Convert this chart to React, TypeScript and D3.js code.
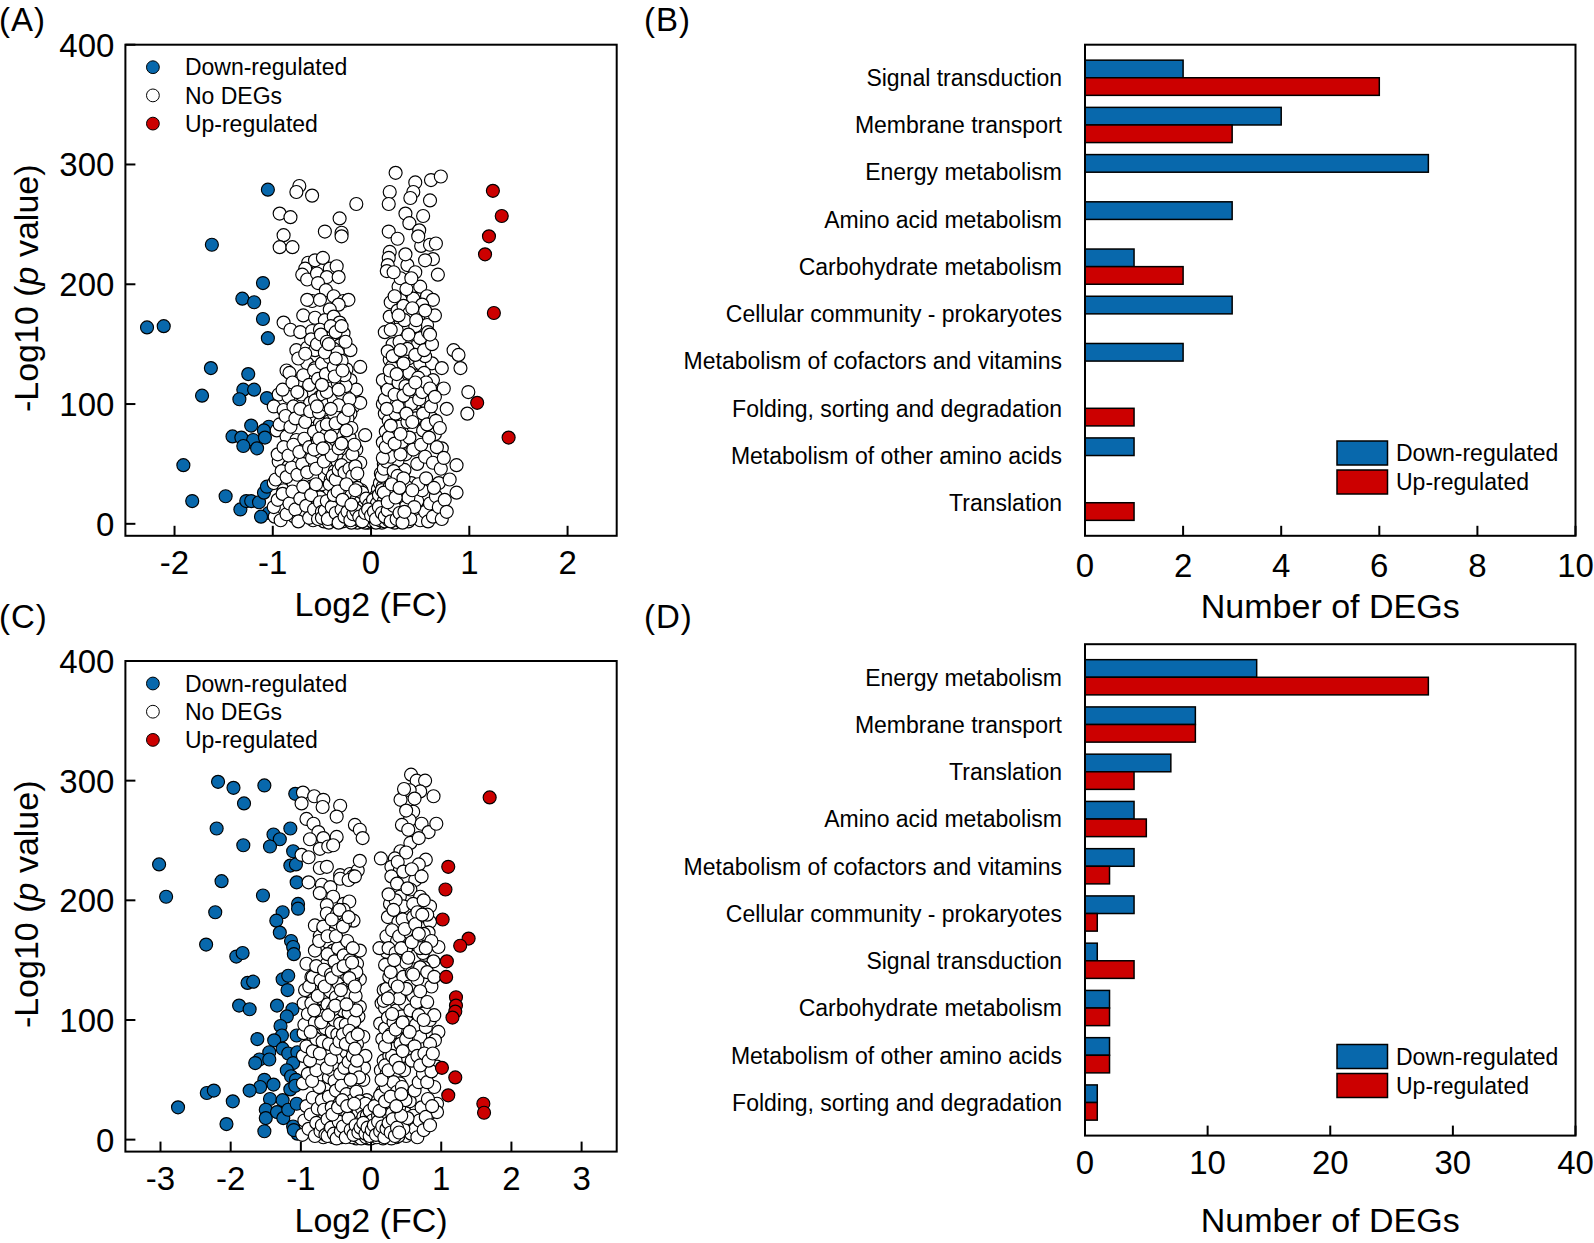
import { useEffect, useRef } from "react";
import * as d3 from "d3";

const FONT = "'Liberation Sans', Arial, Helvetica, sans-serif";
const BLUE = "#0868ac";
const RED = "#cc0000";

// ---- Panel A volcano ([log2 FC, -log10 p]) ----
const downA: number[][] = [
  [-1.05, 279], [-1.62, 233], [-2.28, 164], [-2.11, 165], [-1.1, 201], [-1.31, 188], [-1.19, 185],
  [-1.1, 171], [-1.05, 155], [-1.63, 130], [-1.25, 125], [-1.72, 107], [-1.3, 112], [-1.19, 112],
  [-1.34, 104], [-1.06, 105], [-1.22, 82], [-1.04, 81], [-1.09, 78], [-1.41, 73], [-1.32, 72],
  [-1.2, 70], [-1.08, 72], [-1.3, 65], [-1.16, 63], [-1.91, 49], [-1.82, 19], [-1.48, 23],
  [-1.33, 12], [-1.27, 19], [-1.22, 19], [-1.14, 18], [-1.09, 26], [-1.04, 9], [-1.12, 6], [-1.06, 31],
];
const upA: number[][] = [
  [1.24, 278], [1.33, 257], [1.2, 240], [1.16, 225], [1.25, 176], [1.08, 101], [1.4, 72],
];
// outer, well separated "No DEGs" genes
const noA: number[][] = [
  [-0.73, 282], [-0.76, 277], [-0.6, 274], [-0.93, 259], [-0.82, 256], [-0.89, 241], [-0.93, 231],
  [-0.8, 231], [-0.47, 244], [-0.32, 255], [-0.3, 243], [-0.3, 240], [-0.15, 267],
  [-0.64, 218], [-0.67, 213], [-0.57, 220], [-0.49, 222], [-0.42, 213], [-0.35, 215], [-0.7, 208],
  [-0.65, 204], [-0.55, 209], [-0.45, 206], [-0.33, 206],
  [-0.54, 201], [-0.46, 195], [-0.38, 190], [-0.6, 186], [-0.52, 187], [-0.65, 187], [-0.28, 186],
  [-0.23, 187], [-0.33, 183],
  [-0.42, 179], [-0.69, 174], [-0.57, 172], [-0.47, 170], [-0.38, 173], [-0.32, 168], [-0.28, 159],
  [-0.89, 168], [-0.82, 162], [-0.72, 160], [-0.6, 161], [-0.52, 162], [-0.4, 156], [-0.32, 149],
  [-0.21, 145], [-0.76, 145], [-0.65, 147], [-0.57, 145], [-0.49, 148], [-0.38, 146],
  [-0.86, 128], [-0.83, 126], [-0.65, 134], [-0.57, 130], [-0.47, 134], [-0.35, 134], [-0.25, 129],
  [-0.11, 131], [-0.72, 120], [-0.6, 123], [-0.52, 120], [-0.42, 126], [-0.32, 117], [-0.21, 120],
  [-0.15, 112], [-0.94, 108], [-0.84, 106], [-0.71, 108], [-0.62, 101], [-0.52, 106], [-0.43, 110],
  [-0.35, 104], [-0.25, 106], [-0.18, 98],
  [-0.99, 98], [-0.89, 95], [-0.79, 98], [-0.69, 92], [-0.6, 90], [-0.52, 84], [-0.42, 90],
  [-0.32, 87], [-0.21, 92], [-0.11, 101], [-0.06, 74],
  [-0.96, 78], [-0.86, 73], [-0.76, 70], [-0.65, 67], [-0.55, 73], [-0.45, 67], [-0.35, 73],
  [-0.25, 67], [-0.15, 62],
  [-0.94, 52], [-0.84, 48], [-0.77, 56], [-0.69, 45], [-0.59, 51], [-0.48, 45], [-0.38, 48],
  [-0.28, 53], [-0.18, 45], [-0.11, 51],
  [-0.99, 34], [-0.89, 28], [-0.79, 34], [-0.71, 26], [-0.61, 31], [-0.52, 23], [-0.42, 28],
  [-0.32, 23], [-0.21, 31], [-0.15, 20],
  [-0.98, 6], [-0.88, 12], [-0.78, 6], [-0.67, 9], [-0.59, 3], [-0.48, 12], [-0.38, 6], [-0.28, 9],
  [-0.18, 6], [-0.08, 3],
  [0.25, 293], [0.19, 277], [0.18, 267], [0.45, 285], [0.43, 277], [0.4, 272], [0.61, 287],
  [0.71, 290], [0.6, 270], [0.35, 259], [0.39, 251], [0.53, 257], [0.49, 245], [0.18, 244],
  [0.27, 238], [0.51, 232], [0.6, 233], [0.66, 234], [0.19, 227], [0.18, 222], [0.17, 216],
  [0.16, 211], [0.37, 216], [0.63, 221], [0.68, 208],
  [0.28, 198], [0.3, 187], [0.4, 195], [0.5, 198], [0.57, 190], [0.63, 187], [0.43, 188], [0.52, 183],
  [0.19, 173], [0.3, 170], [0.4, 168], [0.48, 173], [0.57, 166], [0.65, 174], [0.35, 164], [0.26, 162],
  [0.36, 151], [0.48, 151], [0.19, 137], [0.38, 138], [0.5, 134], [0.62, 134], [0.72, 130],
  [0.84, 145], [0.89, 141], [0.91, 130],
  [0.23, 126], [0.33, 120], [0.43, 124], [0.54, 126], [0.63, 120], [0.74, 113],
  [0.16, 115], [0.26, 112], [0.36, 106], [0.46, 101], [0.55, 102], [0.77, 96], [0.99, 110], [0.98, 92],
  [0.14, 92], [0.23, 90], [0.33, 85], [0.43, 81], [0.53, 78], [0.62, 88], [0.65, 75],
  [0.72, 63], [0.87, 49], [0.69, 34], [0.8, 37], [0.87, 26], [0.57, 12], [0.67, 9],
  [0.12, 100], [0.32, 140], [0.22, 150], [0.12, 120], [0.42, 108], [0.55, 140], [0.3, 205],
  [0.2, 185], [0.14, 160],
];
// densely overlapping "No DEGs" genes in the volcano arms
const noACore: number[][] = [
  [-0.48, 2], [-0.44, 7], [-0.41, 3], [-0.39, 12], [-0.36, 5], [-0.34, 18], [-0.31, 9], [-0.29, 2],
  [-0.27, 14], [-0.25, 24], [-0.23, 6], [-0.21, 11], [-0.19, 3], [-0.18, 19], [-0.16, 8], [-0.14, 1],
  [-0.13, 14], [-0.11, 5], [-0.09, 9], [-0.07, 2], [-0.05, 6], [-0.03, 1], [0, 3], [0.02, 7],
  [0.04, 2], [0.06, 11], [0.08, 5], [0.1, 16], [0.11, 1], [0.13, 9], [0.15, 22], [0.16, 4],
  [0.18, 13], [0.2, 7], [0.22, 27], [0.23, 2], [0.25, 17], [0.27, 10], [0.29, 4], [0.31, 21],
  [0.33, 12], [0.35, 6], [-0.46, 15], [-0.42, 26], [-0.38, 21], [-0.35, 31], [-0.32, 27], [-0.3, 16],
  [-0.28, 36], [-0.26, 30], [-0.24, 41], [-0.22, 20], [-0.2, 33], [-0.17, 25], [-0.15, 15],
  [-0.12, 22], [-0.1, 28], [-0.08, 17], [-0.06, 12], [-0.04, 20], [-0.02, 10], [0.01, 14],
  [0.03, 18], [0.05, 23], [0.07, 29], [0.09, 34], [0.12, 31], [0.14, 38], [0.17, 35], [0.19, 44],
  [0.21, 40], [0.24, 33], [0.26, 48], [0.28, 28], [0.3, 39], [0.32, 32], [0.34, 45], [0.37, 26],
  [0.39, 18], [0.41, 34], [0.43, 9], [0.45, 25], [-0.52, 22], [-0.5, 33], [-0.47, 40], [-0.44, 46],
  [-0.41, 37], [-0.37, 44], [-0.34, 52], [-0.31, 41], [-0.29, 57], [-0.27, 48], [-0.25, 62], [-0.23, 54],
  [-0.97, 37], [-0.91, 44], [-0.86, 39], [-0.81, 47], [-0.75, 41], [-0.7, 50], [-0.65, 43], [-0.6, 55],
  [-0.56, 46], [-0.52, 60], [-0.48, 52], [-0.44, 65], [-0.4, 57], [-0.36, 70], [-0.33, 63], [-0.3, 75],
  [-0.27, 68], [-0.22, 72], [-0.19, 58], [-0.17, 66],
  [-0.95, 58], [-0.89, 64], [-0.84, 57], [-0.79, 66], [-0.73, 60], [-0.68, 71], [-0.63, 64], [-0.58, 77],
  [-0.54, 68], [-0.5, 81], [-0.46, 74], [-0.42, 86], [-0.39, 79], [-0.35, 92], [-0.31, 84], [-0.28, 97],
  [-0.24, 88], [-0.2, 80],
  [-0.93, 83], [-0.87, 90], [-0.82, 81], [-0.77, 88], [-0.72, 96], [-0.67, 85], [-0.62, 94], [-0.57, 103],
  [-0.53, 93], [-0.49, 108], [-0.45, 99], [-0.41, 113], [-0.38, 104], [-0.34, 118], [-0.3, 109],
  [-0.26, 115], [-0.22, 104],
  [-0.9, 112], [-0.8, 118], [-0.75, 110], [-0.69, 124], [-0.63, 116], [-0.58, 128], [-0.54, 121],
  [-0.5, 134], [-0.46, 125], [-0.42, 139], [-0.38, 131], [-0.34, 143], [-0.3, 136], [-0.27, 124],
  [-0.74, 138], [-0.67, 142], [-0.61, 154], [-0.55, 150], [-0.51, 158], [-0.45, 152], [-0.41, 165],
  [-0.36, 160], [-0.3, 165], [-0.26, 152],
  [-0.99, 14], [-0.95, 20], [-0.92, 3], [-0.9, 25], [-0.86, 8], [-0.83, 17], [-0.8, 27], [-0.77, 12],
  [-0.74, 2], [-0.72, 21], [-0.69, 31], [-0.66, 15], [-0.63, 5], [-0.61, 24], [-0.58, 12], [-0.56, 33],
  [-0.54, 4], [-0.52, 18], [-0.5, 10],
  [0.38, 2], [0.41, 15], [0.44, 5], [0.47, 19], [0.5, 3], [0.52, 28], [0.55, 10], [0.58, 2], [0.6, 17],
  [0.63, 6], [0.66, 23], [0.69, 14], [0.72, 4], [0.75, 20], [0.77, 10], [0.48, 33], [0.56, 38], [0.64, 30],
  [0.1, 42], [0.13, 50], [0.16, 57], [0.2, 47], [0.23, 62], [0.27, 53], [0.31, 68], [0.35, 58], [0.39, 72],
  [0.43, 62], [0.47, 50], [0.51, 66], [0.55, 56], [0.59, 72], [0.63, 51], [0.67, 64], [0.71, 46], [0.74, 55],
  [0.12, 68], [0.15, 77], [0.18, 86], [0.22, 74], [0.25, 92], [0.29, 81], [0.33, 96], [0.37, 85], [0.41, 100],
  [0.45, 88], [0.49, 104], [0.53, 92], [0.57, 83], [0.61, 98], [0.66, 86], [0.7, 80],
  [0.14, 104], [0.17, 112], [0.2, 122], [0.24, 108], [0.28, 118], [0.31, 130], [0.35, 115], [0.39, 126],
  [0.44, 113], [0.48, 122], [0.52, 110], [0.56, 118], [0.6, 113], [0.65, 106],
  [0.17, 144], [0.21, 131], [0.25, 140], [0.29, 152], [0.33, 134], [0.37, 146], [0.41, 158], [0.45, 141],
  [0.5, 155], [0.54, 145], [0.58, 160], [0.62, 150],
  [0.2, 162], [0.27, 178], [0.33, 182], [0.39, 176], [0.45, 165], [0.55, 178], [0.6, 158], [0.23, 210],
  [0.35, 225], [0.45, 210], [0.55, 220], [0.48, 240],
];
// the nearly solid black heart of the volcano near the origin
const noAHeart: number[][] = [
  [-0.5, 5], [-0.47, 11], [-0.45, 19], [-0.43, 1], [-0.4, 8], [-0.38, 16], [-0.37, 28], [-0.35, 2],
  [-0.33, 10], [-0.32, 22], [-0.3, 6], [-0.28, 13], [-0.27, 29], [-0.26, 4], [-0.24, 17], [-0.23, 33],
  [-0.22, 8], [-0.2, 1], [-0.2, 24], [-0.18, 12], [-0.17, 37], [-0.16, 5], [-0.15, 20], [-0.14, 30],
  [-0.13, 9], [-0.12, 3], [-0.11, 18], [-0.1, 12], [-0.09, 26], [-0.08, 6], [-0.07, 15], [-0.06, 1],
  [-0.05, 21], [-0.04, 9], [-0.03, 4], [-0.02, 16], [-0.01, 7], [0, 11], [0.01, 2], [0.02, 20],
  [0.03, 5], [0.04, 13], [0.05, 1], [0.06, 17], [0.07, 8], [0.08, 24], [0.09, 3], [0.1, 11],
  [0.11, 28], [0.12, 6], [0.13, 19], [0.14, 2], [0.15, 14], [0.16, 26], [0.17, 8], [0.18, 3],
  [0.19, 31], [0.2, 16], [0.21, 5], [0.22, 21], [0.23, 11], [0.24, 1], [0.25, 26], [0.26, 7],
  [0.27, 19], [0.28, 36], [0.29, 12], [0.3, 2], [0.31, 27], [0.32, 17], [0.33, 5], [0.35, 14],
  [0.36, 31], [0.37, 9], [0.38, 22], [0.4, 4], [0.42, 28], [0.44, 14], [-0.42, 33], [-0.39, 40],
  [-0.36, 37], [-0.33, 45], [-0.3, 49], [-0.27, 43], [-0.22, 46], [-0.19, 40], [-0.16, 48], [-0.14, 42],
  [0.11, 40], [0.13, 46], [0.16, 52], [0.2, 56], [0.23, 44], [0.27, 40], [0.3, 58], [0.33, 38],
  [-0.58, 62], [-0.53, 71], [-0.49, 63], [-0.45, 83], [-0.41, 73], [-0.38, 92], [-0.36, 84], [-0.33, 99],
  [-0.3, 67], [-0.28, 88], [-0.25, 78], [-0.23, 95], [-0.45, 110], [-0.41, 96], [-0.37, 123], [-0.33, 112],
  [-0.29, 128], [-0.55, 98], [-0.5, 116], [-0.47, 143], [-0.43, 150], [-0.36, 138],
  [0.12, 55], [0.15, 64], [0.18, 72], [0.2, 82], [0.24, 67], [0.27, 98], [0.3, 75], [0.33, 107],
  [0.36, 92], [0.39, 112], [0.42, 85], [0.45, 118], [0.16, 96], [0.19, 128], [0.22, 140], [0.26, 125],
  [0.3, 145], [0.34, 170], [0.38, 158], [0.42, 180], [0.46, 170], [0.24, 190], [0.28, 174], [0.36, 196],
  [0.41, 205],
  [-0.44, 4], [-0.4, 14], [-0.36, 9], [-0.33, 1], [-0.3, 12], [-0.27, 6], [-0.24, 10], [-0.21, 3],
  [-0.18, 8], [-0.15, 11], [-0.12, 6], [-0.09, 2], [-0.06, 9], [-0.03, 12], [0, 7], [0.03, 10],
  [0.05, 4], [0.08, 14], [0.11, 9], [0.14, 6], [0.17, 11], [0.2, 2], [0.23, 15], [0.26, 4], [0.29, 9],
  [0.32, 1], [0.34, 10], [-0.38, 24], [-0.34, 27], [-0.29, 20], [-0.25, 33], [-0.2, 16], [-0.16, 28],
  [0.13, 26], [0.17, 18], [0.21, 33], [0.25, 22], [0.29, 30],
];
const xTicksA = [-2, -1, 0, 1, 2];

// ---- Panel C volcano ----
const downC: number[][] = [
  [-2.18, 299], [-1.96, 294], [-1.52, 296], [-1.81, 281], [-1.08, 289], [-2.2, 260], [-1.15, 260],
  [-1.39, 255], [-1.3, 251], [-1.44, 245], [-1.82, 246], [-1.11, 241], [-3.02, 230], [-1.15, 229],
  [-1.07, 230], [-2.13, 216], [-1.06, 215], [-2.92, 203], [-1.54, 204], [-1.04, 197], [-1.04, 193],
  [-2.22, 190], [-1.26, 190], [-1.35, 183], [-1.3, 173], [-1.14, 166], [-1.11, 161], [-1.1, 155],
  [-2.35, 163], [-1.92, 153], [-1.83, 156], [-1.26, 134], [-1.18, 137], [-1.19, 125], [-1.76, 131],
  [-1.68, 132], [-1.88, 112], [-1.73, 109], [-1.34, 112], [-1.12, 109], [-1.2, 103], [-1.29, 95],
  [-1.27, 87], [-1.06, 87], [-1.62, 84], [-1.38, 83], [-1.45, 73], [-1.26, 76], [-1.18, 72],
  [-1.05, 73], [-1.59, 67], [-1.65, 64], [-1.45, 67], [-1.11, 64], [-1.2, 58], [-1.14, 53],
  [-1.07, 50], [-1.52, 50], [-1.39, 46], [-1.58, 44], [-1.73, 41], [-2.34, 39], [-2.24, 41],
  [-1.97, 32], [-2.75, 27], [-1.44, 34], [-1.26, 33], [-1.5, 25], [-1.5, 18], [-1.34, 23],
  [-1.25, 18], [-1.18, 25], [-1.11, 11], [-2.06, 13], [-1.52, 7], [-1.15, 42], [-1.08, 45],
  [-1.05, 5], [-1.1, 8], [-1.06, 30],
];
const upC: number[][] = [
  [1.69, 286], [1.1, 228], [1.06, 209], [1.02, 184], [1.39, 168], [1.27, 162], [1.08, 149],
  [1.07, 136], [1.21, 119], [1.21, 112], [1.2, 107], [1.16, 102], [1.01, 60], [1.2, 52], [1.1, 37],
  [1.6, 30], [1.61, 22.5],
];
const noC: number[][] = [
  [-0.97, 290], [-0.81, 287], [-0.68, 284], [-0.69, 278], [-0.44, 279], [-0.49, 270], [-0.99, 281],
  [-0.92, 268], [-0.82, 264], [-0.75, 257], [-0.68, 252], [-0.87, 251], [-0.23, 263], [-0.16, 259],
  [-0.12, 252], [-0.49, 253],
  [-0.99, 238], [-0.89, 236], [-0.73, 243], [-0.61, 245], [-0.54, 246], [-0.73, 227], [-0.63, 228],
  [-0.44, 221], [-0.3, 222], [-0.19, 225], [-0.16, 233], [-0.26, 220],
  [-0.89, 215], [-0.7, 213], [-0.58, 211], [-0.44, 218], [-0.32, 217], [-0.23, 220], [-0.73, 206],
  [-0.54, 203], [-0.39, 197], [-0.31, 199], [-0.63, 196],
  [-0.63, 189], [-0.49, 188], [-0.39, 192], [-0.25, 183], [-0.37, 181], [-0.49, 179],
  [-0.8, 179], [-0.68, 175], [-0.73, 170], [-0.58, 172], [-0.61, 165], [-0.54, 158], [-0.44, 156],
  [-0.35, 164], [-0.47, 153], [-0.63, 147], [-0.54, 142], [-0.35, 145], [-0.25, 153], [-0.16, 158],
  [-0.2, 147],
  [-0.92, 147], [-0.85, 136], [-0.77, 130], [-0.94, 125], [-0.82, 117], [-0.68, 125], [-0.54, 128],
  [-0.39, 130], [-0.25, 125], [-0.16, 134], [-0.25, 136],
  [-0.96, 114], [-0.82, 108], [-0.68, 111], [-0.54, 114], [-0.39, 119], [-0.25, 117], [-0.16, 111],
  [-0.87, 103], [-0.73, 97], [-0.58, 100], [-0.44, 94], [-0.3, 100], [-0.18, 103],
  [-0.96, 89], [-0.82, 86], [-0.68, 80], [-0.54, 83], [-0.39, 86], [-0.25, 80], [-0.11, 86],
  [-0.2, 64], [-0.11, 50], [-0.06, 33], [-0.1, 60], [-0.08, 70], [-0.27, 95], [-0.2, 80],
  [0.57, 305], [0.65, 300], [0.77, 300], [0.7, 291], [0.55, 292], [0.42, 284], [0.89, 287], [0.47, 293],
  [0.6, 274], [0.55, 267], [0.44, 263], [0.53, 259], [0.72, 264], [0.82, 257], [0.93, 264],
  [0.56, 248], [0.42, 241], [0.34, 235], [0.14, 235], [0.78, 234], [0.29, 228],
  [0.41, 225], [0.29, 220], [0.48, 218], [0.63, 217], [0.37, 214], [0.56, 209], [0.7, 203],
  [0.41, 203], [0.27, 197], [0.46, 195], [0.6, 197], [0.84, 195], [0.75, 200],
  [0.24, 186], [0.39, 182], [0.56, 183], [0.7, 177], [0.84, 182], [0.82, 173], [0.96, 161],
  [0.22, 170], [0.37, 166], [0.51, 167], [0.67, 164], [0.22, 157], [0.41, 150], [0.63, 147],
  [0.89, 149], [0.75, 144],
  [0.18, 125], [0.29, 128], [0.46, 130], [0.6, 126], [0.79, 130], [0.15, 114], [0.32, 111],
  [0.46, 114], [0.6, 108], [0.77, 106], [0.96, 90], [0.91, 83],
  [0.13, 97], [0.27, 92], [0.41, 89], [0.56, 83], [0.7, 86], [0.84, 80], [0.94, 61],
  [0.94, 30], [0.84, 22], [0.94, 23], [0.33, 140], [0.2, 110], [0.12, 160], [0.35, 200], [0.5, 240],
  [0.68, 230], [0.45, 150],
];
const noCCore: number[][] = [
  [-0.68, 2], [-0.63, 8], [-0.59, 3], [-0.55, 14], [-0.51, 6], [-0.48, 20], [-0.45, 10], [-0.42, 2],
  [-0.39, 16], [-0.36, 27], [-0.34, 7], [-0.31, 12], [-0.29, 3], [-0.26, 21], [-0.24, 9], [-0.21, 1],
  [-0.19, 15], [-0.16, 5], [-0.13, 10], [-0.1, 2], [-0.07, 7], [-0.04, 1], [0, 3], [0.03, 8], [0.06, 2],
  [0.09, 12], [0.12, 5], [0.15, 18], [0.17, 1], [0.2, 10], [0.23, 25], [0.25, 4], [0.28, 15], [0.31, 8],
  [0.34, 30], [0.36, 2], [0.39, 19], [0.42, 11], [0.45, 4], [0.48, 23],
  [-0.66, 18], [-0.61, 29], [-0.57, 24], [-0.53, 35], [-0.49, 31], [-0.46, 41], [-0.43, 24], [-0.4, 36],
  [-0.37, 46], [-0.33, 33], [-0.3, 44], [-0.28, 28], [-0.25, 38], [-0.22, 18], [-0.18, 30], [-0.15, 23],
  [-0.12, 17], [-0.09, 24], [-0.06, 14], [-0.03, 19], [0.01, 13], [0.04, 21], [0.07, 27], [0.1, 33],
  [0.13, 29], [0.16, 40], [0.19, 36], [0.22, 46], [0.26, 39], [0.29, 52], [0.32, 42], [0.35, 55],
  [0.38, 36], [0.41, 47], [0.44, 32], [0.47, 58],
  [-0.64, 45], [-0.6, 52], [-0.56, 58], [-0.52, 49], [-0.48, 62], [-0.44, 55], [-0.41, 68], [-0.38, 60],
  [-0.35, 73], [-0.32, 65], [-0.29, 78], [-0.26, 70], [-0.23, 59], [-0.2, 66], [-0.17, 52],
  [-0.98, 4], [-0.95, 16], [-0.92, 28], [-0.89, 9], [-0.86, 21], [-0.83, 35], [-0.8, 3], [-0.78, 14],
  [-0.76, 26], [-0.74, 44], [-0.72, 7], [-0.7, 33], [-0.97, 47], [-0.9, 55], [-0.84, 49], [-0.78, 58],
  [-0.97, 70], [-0.92, 78], [-0.87, 66], [-0.83, 74], [-0.78, 84], [-0.73, 72], [-0.69, 82], [-0.65, 93],
  [-0.6, 80], [-0.56, 90], [-0.52, 100], [-0.48, 88], [-0.44, 97], [-0.4, 108], [-0.36, 96], [-0.32, 106],
  [-0.28, 90], [-0.24, 99], [-0.21, 108],
  [-0.95, 96], [-0.9, 105], [-0.85, 114], [-0.8, 98], [-0.75, 107], [-0.7, 118], [-0.66, 104],
  [-0.62, 113], [-0.58, 124], [-0.54, 109], [-0.5, 119], [-0.46, 130], [-0.42, 115], [-0.38, 126],
  [-0.34, 137], [-0.3, 121], [-0.26, 131], [-0.22, 120],
  [-0.88, 128], [-0.83, 136], [-0.78, 145], [-0.72, 133], [-0.67, 142], [-0.62, 155], [-0.57, 138],
  [-0.52, 149], [-0.47, 160], [-0.43, 143], [-0.39, 154], [-0.34, 166], [-0.3, 150], [-0.26, 160],
  [-0.21, 140], [-0.8, 158], [-0.74, 166], [-0.68, 178], [-0.62, 170], [-0.56, 184], [-0.5, 170],
  [-0.45, 192], [-0.4, 178], [-0.32, 186],
  [0.5, 3], [0.54, 13], [0.57, 5], [0.6, 20], [0.63, 9], [0.66, 2], [0.69, 16], [0.72, 27], [0.75, 8],
  [0.78, 19], [0.81, 34], [0.84, 12], [0.87, 28], [0.9, 44], [0.55, 32], [0.62, 41], [0.68, 48],
  [0.74, 55], [0.8, 48], [0.86, 57],
  [0.14, 58], [0.18, 66], [0.22, 55], [0.26, 70], [0.3, 62], [0.34, 76], [0.38, 66], [0.42, 80],
  [0.46, 70], [0.5, 84], [0.54, 74], [0.58, 66], [0.62, 78], [0.66, 70], [0.7, 62], [0.76, 72],
  [0.82, 66], [0.88, 72],
  [0.16, 84], [0.2, 93], [0.24, 102], [0.28, 88], [0.32, 98], [0.36, 108], [0.4, 94], [0.44, 103],
  [0.48, 114], [0.52, 98], [0.56, 108], [0.6, 120], [0.64, 96], [0.68, 104], [0.72, 116], [0.78, 94],
  [0.84, 100], [0.9, 104],
  [0.18, 116], [0.22, 126], [0.26, 136], [0.3, 120], [0.34, 131], [0.38, 143], [0.42, 124], [0.46, 136],
  [0.5, 148], [0.54, 128], [0.58, 139], [0.62, 153], [0.66, 134], [0.7, 144], [0.74, 156], [0.8, 140],
  [0.86, 128], [0.9, 136],
  [0.2, 146], [0.25, 160], [0.3, 175], [0.35, 156], [0.4, 170], [0.45, 184], [0.5, 160], [0.55, 173],
  [0.6, 186], [0.65, 168], [0.7, 160], [0.75, 172], [0.8, 188], [0.86, 166],
  [0.25, 205], [0.32, 192], [0.38, 232], [0.46, 224], [0.52, 210], [0.58, 226], [0.66, 190], [0.72, 220],
  [0.5, 275], [0.62, 285], [0.68, 252],
];
const noCHeart: number[][] = [
  [-0.7, 12], [-0.67, 25], [-0.65, 4], [-0.62, 17], [-0.6, 36], [-0.58, 9], [-0.56, 27], [-0.54, 2],
  [-0.52, 20], [-0.5, 41], [-0.49, 12], [-0.47, 6], [-0.45, 30], [-0.44, 17], [-0.42, 45], [-0.41, 8],
  [-0.39, 24], [-0.38, 3], [-0.37, 14], [-0.35, 38], [-0.34, 20], [-0.33, 5], [-0.31, 29], [-0.3, 10],
  [-0.29, 50], [-0.28, 17], [-0.27, 2], [-0.26, 33], [-0.25, 12], [-0.23, 25], [-0.22, 6], [-0.21, 40],
  [-0.2, 13], [-0.19, 3], [-0.18, 22], [-0.17, 9], [-0.16, 32], [-0.15, 15], [-0.14, 1], [-0.13, 26],
  [-0.12, 8], [-0.11, 19], [-0.1, 4], [-0.09, 13], [-0.08, 30], [-0.07, 2], [-0.06, 20], [-0.05, 9],
  [-0.04, 14], [-0.03, 5], [-0.02, 24], [-0.01, 11], [0, 1], [0.02, 16], [0.04, 6], [0.05, 28],
  [0.07, 11], [0.08, 2], [0.1, 20], [0.11, 8], [0.13, 37], [0.14, 14], [0.16, 3], [0.18, 26],
  [0.19, 10], [0.21, 44], [0.22, 17], [0.24, 6], [0.26, 31], [0.27, 12], [0.29, 1], [0.3, 22],
  [0.32, 48], [0.33, 9], [0.35, 18], [0.37, 40], [0.39, 3], [0.4, 27], [0.42, 14], [0.44, 44],
  [0.46, 9], [0.49, 33], [0.52, 18], [-0.63, 60], [-0.57, 67], [-0.5, 76], [-0.45, 82], [-0.4, 88],
  [-0.36, 80], [-0.31, 91], [-0.27, 85], [-0.23, 76], [-0.19, 88], [0.15, 50], [0.2, 62], [0.25, 58],
  [0.3, 70], [0.35, 66], [0.4, 60], [0.45, 74],
  [-0.86, 90], [-0.81, 108], [-0.76, 120], [-0.71, 98], [-0.66, 128], [-0.61, 104], [-0.56, 135],
  [-0.51, 112], [-0.47, 142], [-0.43, 125], [-0.39, 145], [-0.35, 113], [-0.31, 135], [-0.27, 148],
  [-0.23, 128],
  [0.2, 78], [0.25, 86], [0.3, 105], [0.35, 92], [0.4, 118], [0.45, 98], [0.5, 126], [0.55, 90],
  [0.6, 138], [0.65, 115], [0.7, 124], [0.75, 100], [0.8, 115], [0.24, 118], [0.28, 140], [0.33, 150],
  [0.38, 128], [0.43, 160], [0.48, 176], [0.53, 152], [0.58, 165], [0.63, 180], [0.68, 172],
  [0.73, 188], [0.78, 160],
  [-0.62, 3], [-0.57, 10], [-0.53, 5], [-0.49, 1], [-0.46, 15], [-0.43, 7], [-0.4, 11], [-0.36, 2],
  [-0.32, 18], [-0.29, 8], [-0.25, 4], [-0.22, 12], [-0.18, 6], [-0.15, 10], [-0.11, 14], [-0.08, 5],
  [-0.05, 10], [-0.02, 3], [0.01, 8], [0.04, 12], [0.07, 4], [0.1, 15], [0.13, 7], [0.16, 11],
  [0.19, 2], [0.22, 9], [0.25, 14], [0.28, 6], [0.31, 17], [0.34, 3], [0.37, 10], [0.4, 6], [0.43, 20],
  [-0.55, 21], [-0.47, 27], [-0.41, 33], [-0.34, 28], [-0.24, 30], [0.12, 24], [0.2, 32], [0.28, 36],
  [0.36, 28], [0.43, 38],
];
const xTicksC = [-3, -2, -1, 0, 1, 2, 3];
const yTicksVolcano = [0, 100, 200, 300, 400];
const legendLabels = ["Down-regulated", "No DEGs", "Up-regulated"];

// ---- Panel B bars ----
const categoriesB = [
  "Signal transduction", "Membrane transport", "Energy metabolism", "Amino acid metabolism",
  "Carbohydrate metabolism", "Cellular community - prokaryotes", "Metabolism of cofactors and vitamins",
  "Folding, sorting and degradation", "Metabolism of other amino acids", "Translation",
];
const downB = [2, 4, 7, 3, 1, 3, 2, 0, 1, 0];
const upB = [6, 3, 0, 0, 2, 0, 0, 1, 0, 1];
const xTicksB = [0, 2, 4, 6, 8, 10];

// ---- Panel D bars ----
const categoriesD = [
  "Energy metabolism", "Membrane transport", "Translation", "Amino acid metabolism",
  "Metabolism of cofactors and vitamins", "Cellular community - prokaryotes", "Signal transduction",
  "Carbohydrate metabolism", "Metabolism of other amino acids", "Folding, sorting and degradation",
];
const downD = [14, 9, 7, 4, 4, 4, 1, 2, 2, 1];
const upD = [28, 9, 4, 5, 2, 1, 4, 2, 2, 1];
const xTicksD = [0, 10, 20, 30, 40];
const barLegend = ["Down-regulated", "Up-regulated"];

function drawVolcano(svg: any, o: any) {
  const x = d3.scaleLinear().domain(o.xDomain).range([o.left, o.right]);
  const y = d3.scaleLinear().domain([-10, 400]).range([o.bottom, o.top]);
  const g = svg.append("g");

  g.append("rect")
    .attr("x", o.left).attr("y", o.top)
    .attr("width", o.right - o.left).attr("height", o.bottom - o.top)
    .attr("fill", "white");

  // points: down first, then no DEGs, then up
  const dots = (data: number[][], fill: string) =>
    g.append("g").selectAll("circle").data(data).join("circle")
      .attr("cx", (d: number[]) => x(d[0]))
      .attr("cy", (d: number[]) => y(d[1]))
      .attr("r", 6.5)
      .attr("fill", fill)
      .attr("stroke", "#000")
      .attr("stroke-width", 1.15);
  dots(o.down, BLUE);
  dots(o.none, "white");
  dots(o.up, RED);

  // ticks (inside)
  o.xTicks.forEach((t: number) => {
    g.append("line").attr("x1", x(t)).attr("x2", x(t))
      .attr("y1", o.bottom).attr("y2", o.bottom - 10)
      .attr("stroke", "black").attr("stroke-width", 2);
    g.append("text").attr("x", x(t)).attr("y", o.bottom + 38)
      .attr("text-anchor", "middle").style("font-size", "33px").text(t);
  });
  yTicksVolcano.forEach((t) => {
    g.append("line").attr("x1", o.left).attr("x2", o.left + 10)
      .attr("y1", y(t)).attr("y2", y(t))
      .attr("stroke", "black").attr("stroke-width", 2);
    g.append("text").attr("x", o.left - 11).attr("y", y(t)).attr("dy", "0.36em")
      .attr("text-anchor", "end").style("font-size", "33px").text(t);
  });

  g.append("rect")
    .attr("x", o.left).attr("y", o.top)
    .attr("width", o.right - o.left).attr("height", o.bottom - o.top)
    .attr("fill", "none").attr("stroke", "black").attr("stroke-width", 2);

  // axis titles
  g.append("text").attr("x", (o.left + o.right) / 2).attr("y", o.bottom + 80)
    .attr("text-anchor", "middle").style("font-size", "34px").text("Log2 (FC)");
  const yt = g.append("text")
    .attr("transform", `translate(38,${(o.top + o.bottom) / 2 - 2}) rotate(-90)`)
    .attr("text-anchor", "middle").style("font-size", "34px");
  yt.append("tspan").text("-Log10 (");
  yt.append("tspan").style("font-style", "italic").text("p");
  yt.append("tspan").text(" value)");

  // legend
  const fills = [BLUE, "white", RED];
  legendLabels.forEach((lab, i) => {
    const cy = o.top + 22.5 + i * 28.2;
    g.append("circle").attr("cx", o.left + 27.5).attr("cy", cy).attr("r", 6.4)
      .attr("fill", fills[i]).attr("stroke", "#000").attr("stroke-width", 1);
    g.append("text").attr("x", o.left + 59.5).attr("y", cy).attr("dy", "0.36em")
      .style("font-size", "23px").text(lab);
  });

  svg.append("text").attr("x", -1).attr("y", o.labelY)
    .style("font-size", "33px").style("letter-spacing", "1px").text(o.label);
}

function drawBars(svg: any, o: any) {
  const x = d3.scaleLinear().domain([0, o.xTicks[o.xTicks.length - 1]]).range([o.left, o.right]);
  const y = d3.scalePoint().domain(o.categories).range([o.top, o.bottom]).padding(0.7);
  const bh = 17.6;
  const g = svg.append("g");

  o.categories.forEach((c: string, i: number) => {
    const cy = y(c) as number;
    if (o.down[i] > 0) {
      g.append("rect").attr("x", x(0)).attr("y", cy - bh)
        .attr("width", x(o.down[i]) - x(0)).attr("height", bh)
        .attr("fill", BLUE).attr("stroke", "black").attr("stroke-width", 1.5);
    }
    if (o.up[i] > 0) {
      g.append("rect").attr("x", x(0)).attr("y", cy)
        .attr("width", x(o.up[i]) - x(0)).attr("height", bh)
        .attr("fill", RED).attr("stroke", "black").attr("stroke-width", 1.5);
    }
    g.append("text").attr("x", o.left - 23).attr("y", cy).attr("dy", "0.36em")
      .attr("text-anchor", "end").style("font-size", "23px").text(c);
  });

  o.xTicks.forEach((t: number) => {
    g.append("line").attr("x1", x(t)).attr("x2", x(t))
      .attr("y1", o.bottom).attr("y2", o.bottom - 10)
      .attr("stroke", "black").attr("stroke-width", 2);
    g.append("text").attr("x", x(t)).attr("y", o.tickY)
      .attr("text-anchor", "middle").style("font-size", "33px").text(t);
  });

  g.append("rect")
    .attr("x", o.left).attr("y", o.top)
    .attr("width", o.right - o.left).attr("height", o.bottom - o.top)
    .attr("fill", "none").attr("stroke", "black").attr("stroke-width", 2);

  g.append("text").attr("x", (o.left + o.right) / 2).attr("y", o.titleY)
    .attr("text-anchor", "middle").style("font-size", "34px").text("Number of DEGs");

  // legend
  [BLUE, RED].forEach((col, i) => {
    const ty = o.legendTop + i * 29;
    g.append("rect").attr("x", 1337).attr("y", ty).attr("width", 50.5).attr("height", 24)
      .attr("fill", col).attr("stroke", "black").attr("stroke-width", 1.5);
    g.append("text").attr("x", 1396).attr("y", ty + 12).attr("dy", "0.36em")
      .style("font-size", "23px").text(barLegend[i]);
  });

  svg.append("text").attr("x", 644).attr("y", o.labelY)
    .style("font-size", "33px").style("letter-spacing", "1px").text(o.label);
}

export default function App() {
  const svgRef = useRef<SVGSVGElement | null>(null);

  useEffect(() => {
    const svg = d3.select(svgRef.current);
    svg.selectAll("*").remove();

    drawVolcano(svg, {
      left: 125.4, right: 616.7, top: 44.7, bottom: 535.8,
      xDomain: [-2.5, 2.5], xTicks: xTicksA,
      down: downA, none: [...noA, ...noACore, ...noAHeart], up: upA, label: "(A)", labelY: 31,
    });
    drawVolcano(svg, {
      left: 125.4, right: 616.7, top: 661, bottom: 1151.6,
      xDomain: [-3.5, 3.5], xTicks: xTicksC,
      down: downC, none: [...noC, ...noCCore, ...noCHeart], up: upC, label: "(C)", labelY: 628,
    });
    drawBars(svg, {
      left: 1085, right: 1575.5, top: 44.7, bottom: 535.8,
      categories: categoriesB, down: downB, up: upB, xTicks: xTicksB,
      tickY: 577, titleY: 618, legendTop: 441, label: "(B)", labelY: 31,
    });
    drawBars(svg, {
      left: 1085, right: 1575.5, top: 644.2, bottom: 1135.6,
      categories: categoriesD, down: downD, up: upD, xTicks: xTicksD,
      tickY: 1174, titleY: 1232, legendTop: 1044.5, label: "(D)", labelY: 628,
    });
  }, []);

  return (
    <svg
      ref={svgRef}
      width={1594}
      height={1243}
      style={{ position: "absolute", left: 0, top: 0, display: "block", background: "white", fontFamily: FONT }}
    />
  );
}
